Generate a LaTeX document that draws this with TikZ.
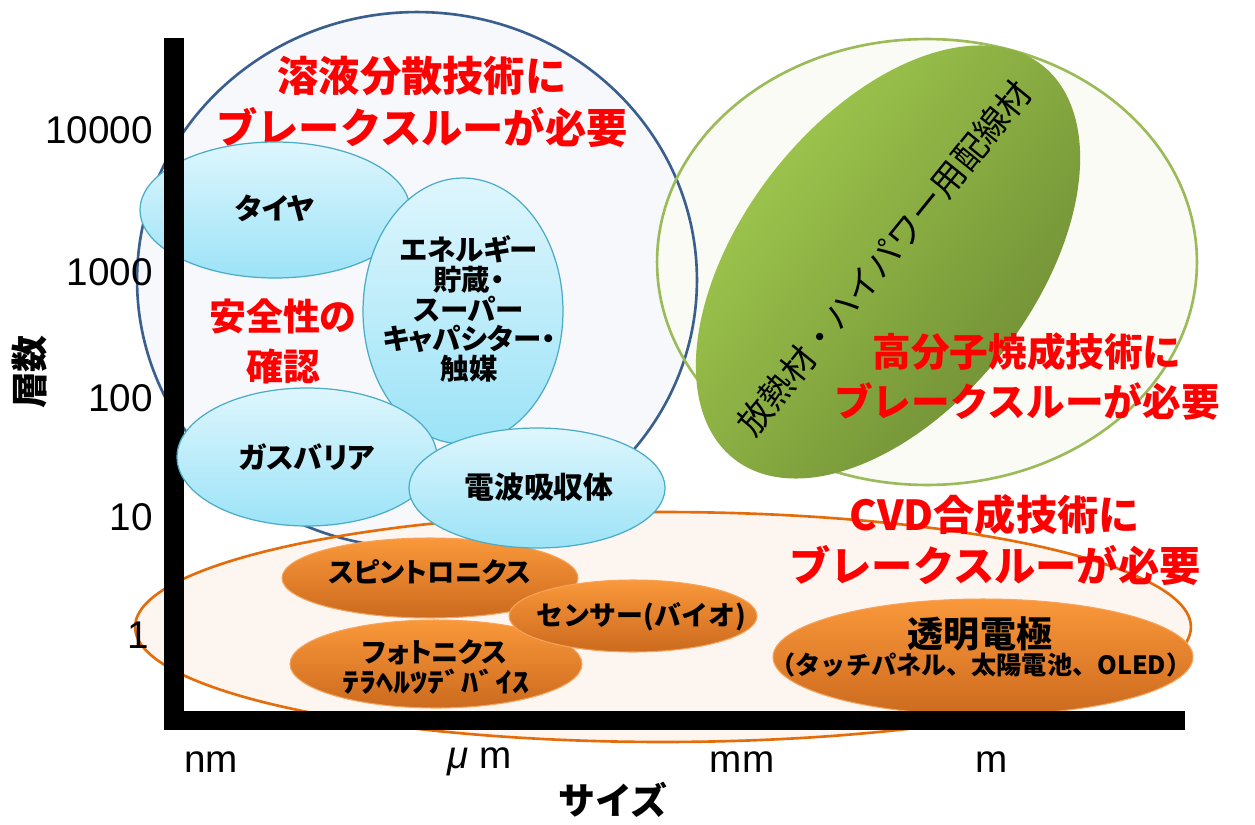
\documentclass[tikz,border=0pt]{standalone}
\usepackage{fontspec}
\setmainfont{Liberation Sans}
\newfontfamily\jp{Noto Sans CJK JP}
\newfontfamily\jpp{Noto Sans CJK JP}[RawFeature=+palt]
\newfontfamily\jph{Noto Sans CJK JP}[FakeStretch=1.25]
\usetikzlibrary{shapes.geometric}
\definecolor{bluering}{HTML}{3A5F8F}
\definecolor{greenring}{HTML}{9BBB59}
\definecolor{orangering}{HTML}{E46C0A}
\definecolor{cyanline}{HTML}{4BACC6}
\definecolor{cyantop}{HTML}{DEF6FD}
\definecolor{cyanbot}{HTML}{9CE3F7}
\definecolor{orangetop}{HTML}{FA983B}
\definecolor{orangebot}{HTML}{CC6A1E}
\definecolor{orangeline}{HTML}{F6A35C}
\definecolor{greenlight}{HTML}{A2CB4F}
\definecolor{greendark}{HTML}{6E8C34}
\definecolor{redtext}{HTML}{FF0000}
\definecolor{bluefill}{HTML}{F6F8FC}
\definecolor{greenfill}{HTML}{F9FBF4}
\definecolor{orangefill}{HTML}{FDF5EF}
\tikzset{
  redtxt/.style={text=redtext, font=\jp\bfseries\fontsize{23.5}{29.5}\selectfont, align=center, inner sep=0pt},
  lbl/.style={font=\jpp\bfseries\fontsize{15.5}{17}\selectfont, align=center, inner sep=0pt},
  clbl/.style={font=\jpp\bfseries\fontsize{16.5}{17}\selectfont, align=center, inner sep=0pt},
  tick/.style={font=\fontsize{22}{24}\selectfont, inner sep=0pt},
  axlbl/.style={font=\jp\bfseries\fontsize{21}{24}\selectfont, inner sep=0pt},
  cyanE/.style={draw=cyanline, line width=0.7pt, top color=cyantop, bottom color=cyanbot},
  orangeE/.style={draw=orangeline, line width=0.6pt, top color=orangetop, bottom color=orangebot},
  bigring/.style={line width=1.5pt},
}
\begin{document}
\begin{tikzpicture}[x=0.02cm,y=-0.02cm]
\useasboundingbox (0,0) rectangle (1255,825);
\fill[white] (0,0) rectangle (1255,825);
% big region fills
\fill[bluefill] (417,280) ellipse [x radius=5.6cm, y radius=5.36cm];
\fill[greenfill] (927,262) ellipse [x radius=5.4cm, y radius=4.46cm];
\fill[orangefill] (663,627) ellipse [x radius=10.56cm, y radius=2.3cm];
% big region outlines
\draw[bigring, draw=bluering] (417,280) ellipse [x radius=5.6cm, y radius=5.36cm];
\draw[bigring, draw=greenring] (927,262) ellipse [x radius=5.4cm, y radius=4.46cm];
\draw[bigring, draw=orangering] (663,627) ellipse [x radius=10.56cm, y radius=2.3cm];
% green filled ellipse (rotated 52 degrees, drawn as a parametric curve)
\path[top color=greenlight, bottom color=greendark, shading angle=52]
  plot[domain=0:360, samples=120, smooth cycle, variable=\t]
  ({888 + 250*cos(\t)*cos(52) - 146*sin(\t)*sin(52)},
   {262 - 250*cos(\t)*sin(52) - 146*sin(\t)*cos(52)});
\node[font=\jp\fontsize{19.5}{21}\selectfont, rotate=51, inner sep=0pt] (heat) at (884,258) {放熱材・ハイパワー用配線材};
% red texts
\node[redtxt] (solv) at (422,102) {溶液分散技術に\\ブレークスルーが必要};
\node[redtxt, font=\jp\bfseries\fontsize{21}{28.5}\selectfont] (safe) at (283,341) {安全性の\\確認};
\node[redtxt, font=\jp\bfseries\fontsize{22}{28.5}\selectfont] (poly) at (1027,377) {高分子焼成技術に\\ブレークスルーが必要};
\node[redtxt] (cvd) at (995,540) {CVD合成技術に\\ブレークスルーが必要};
% tire (behind axis)
\draw[cyanE] (275,210) ellipse [x radius=2.7cm, y radius=1.36cm];
\node[clbl] (tire) at (275,208) {タイヤ};
% orange small ellipses
\draw[orangeE] (430,578) ellipse [x radius=2.96cm, y radius=0.8cm];
\node[lbl] (spin) at (430,572) {スピントロニクス};
\draw[orangeE] (436,664) ellipse [x radius=2.92cm, y radius=0.88cm];
\node[lbl] (photo) at (435,652) {フォトニクス};
\node[lbl, font=\jph\bfseries\fontsize{15.5}{17}\selectfont] (tera) at (436,682) {ﾃﾗﾍﾙﾂﾃﾞﾊﾞｲｽ};
\draw[orangeE] (633,616) ellipse [x radius=2.48cm, y radius=0.72cm];
\node[lbl, font=\jp\bfseries\fontsize{15.3}{17}\selectfont] (sensor) at (641,617) {センサー(バイオ)};
\draw[orangeE] (983,657) ellipse [x radius=4.2cm, y radius=1.16cm];
\node[lbl, font=\jpp\bfseries\fontsize{20.5}{22}\selectfont] (trans) at (980,634) {透明電極};
\node[lbl, font=\jp\bfseries\fontsize{14.3}{16}\selectfont] (transsub) at (981,665) {（タッチパネル、太陽電池、OLED）};
% axes
\fill[black] (164,38) rectangle (184,730);
\fill[black] (164,711) rectangle (1185,730);
% cyan ellipses on top
\draw[cyanE] (463,311) ellipse [x radius=2.0cm, y radius=2.66cm];
\node[clbl, font=\jpp\bfseries\fontsize{16.2}{16.9}\selectfont] (energy) at (469,309) {エネルギー\\貯蔵・\\スーパー\\キャパシター・\\触媒};
\draw[cyanE] (307,457) ellipse [x radius=2.6cm, y radius=1.38cm];
\node[clbl] (gas) at (307,457) {ガスバリア};
\draw[cyanE] (537,488) ellipse [x radius=2.56cm, y radius=1.2cm];
\node[clbl, font=\jpp\bfseries\fontsize{17}{18}\selectfont] (wave) at (539,487) {電波吸収体};
% tick labels
\node[tick, anchor=east] (t10000) at (153,130) {10000};
\node[tick, anchor=east] (t1000) at (153,272) {1000};
\node[tick, anchor=east] (t100) at (153,398) {100};
\node[tick, anchor=east] (t10) at (153,517) {10};
\node[tick, anchor=east] (t1) at (149,635) {1};
\node[tick] (xnm) at (211,762) {nm};
\node[tick] (xum) at (480,762) {{\itshape μ} m};
\node[tick] (xmm) at (742,762) {mm};
\node[tick] (xm) at (992,762) {m};
\node[axlbl] (xlab) at (613,800) {サイズ};
\node[axlbl, rotate=90] (ylab) at (30,372) {層数};
\end{tikzpicture}
\end{document}
